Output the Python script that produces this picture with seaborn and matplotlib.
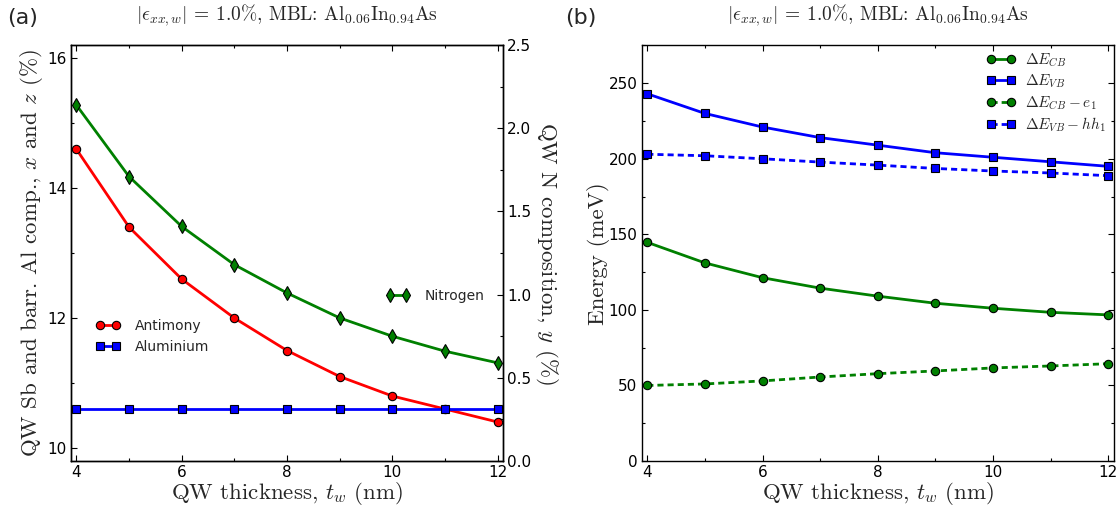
import matplotlib
matplotlib.use("Agg")
import matplotlib.pyplot as plt
import seaborn as sns
from matplotlib.ticker import MultipleLocator

# ---------------- data ----------------
thickness = [4, 5, 6, 7, 8, 9, 10, 11, 12]
antimony = [14.6, 13.4, 12.6, 12.0, 11.5, 11.1, 10.8, 10.6, 10.4]
aluminium = [10.6, 10.6, 10.6, 10.6, 10.6, 10.6, 10.6, 10.6, 10.6]
nitrogen = [2.14, 1.71, 1.41, 1.18, 1.01, 0.86, 0.75, 0.66, 0.59]

de_cb = [144.7, 131.1, 121.3, 114.4, 109.1, 104.4, 101.1, 98.4, 96.7]
de_vb = [243.0, 230.0, 221.0, 214.0, 209.0, 204.0, 201.0, 198.0, 195.0]
de_cb_e1 = [50.0, 51.0, 53.0, 55.6, 57.8, 59.6, 61.6, 62.9, 64.4]
de_vb_hh1 = [203.0, 202.0, 200.0, 197.8, 195.8, 193.6, 191.9, 190.6, 188.8]

title_txt = r"$|\epsilon_{xx,w}|$ = 1.0%, MBL: Al$_{0.06}$In$_{0.94}$As"
xlabel_txt = r"QW thickness, $t_w$ (nm)"
ylabel_a = r"QW Sb and barr. Al comp., $x$ and $z$ (%)"
ylabel_a2 = r"QW N composition, $y$ (%)"
ylabel_b = "Energy (meV)"

# ---------------- style ----------------
sns.set_style("ticks")
plt.rcParams.update({
    "xtick.direction": "in", "ytick.direction": "in",
    "xtick.top": True, "ytick.right": True,
    "xtick.major.size": 4, "ytick.major.size": 4,
    "xtick.minor.size": 2, "ytick.minor.size": 2,
    "xtick.major.width": 0.8, "ytick.major.width": 0.8,
    "xtick.minor.width": 0.8, "ytick.minor.width": 0.8,
    "axes.edgecolor": "black", "axes.linewidth": 1.0,
    "xtick.color": "black", "ytick.color": "black",
    "xtick.labelsize": 11, "ytick.labelsize": 11,
    "mathtext.fontset": "cm",
})
plt.rcParams["font.family"] = ["DejaVu Sans"]
SERIF = ["cmr10", "DejaVu Serif"]
LABEL_FS = 16.5
TITLE_FS = 14

fig = plt.figure(figsize=(11.19, 5.11), dpi=100)
ax1 = fig.add_axes([0.0635, 0.0978, 0.386, 0.814])
ax2 = fig.add_axes([0.5733, 0.0978, 0.4222, 0.8133])

LW = 2.0
MEW = 0.8
DOT = (0, (2.2, 1.45))

# ---------------- panel (a) ----------------
sns.lineplot(x=thickness, y=antimony, ax=ax1, color="red", marker="o", markersize=6,
             markeredgecolor="k", markeredgewidth=MEW, linewidth=LW, label="Antimony")
sns.lineplot(x=thickness, y=aluminium, ax=ax1, color="blue", marker="s", markersize=6,
             markeredgecolor="k", markeredgewidth=MEW, linewidth=LW, label="Aluminium")
ax1r = ax1.twinx()
sns.lineplot(x=thickness, y=nitrogen, ax=ax1r, color="green", marker="d", markersize=7,
             markeredgecolor="k", markeredgewidth=MEW, linewidth=LW, label="Nitrogen")

ax1.set_xlim(3.9, 12.1)
ax1.set_ylim(9.8, 16.2)
ax1r.set_ylim(0.0, 2.5)
ax1.xaxis.set_major_locator(MultipleLocator(2))
ax1.xaxis.set_minor_locator(MultipleLocator(1))
ax1.yaxis.set_major_locator(MultipleLocator(2))
ax1.yaxis.set_minor_locator(MultipleLocator(1))
ax1r.yaxis.set_major_locator(MultipleLocator(0.5))
ax1r.yaxis.set_minor_locator(MultipleLocator(0.25))
ax1.tick_params(axis="y", which="both", right=False, pad=3)
ax1r.tick_params(axis="y", which="both", direction="in", right=True, left=False, pad=3)
ax1.tick_params(axis="x", which="both", top=True, pad=3)

ax1.set_xlabel(xlabel_txt, fontfamily=SERIF, fontsize=LABEL_FS, labelpad=0)
ax1.set_ylabel(ylabel_a, fontfamily=SERIF, fontsize=LABEL_FS, labelpad=2)
ax1r.set_ylabel(ylabel_a2, fontfamily=SERIF, fontsize=LABEL_FS, rotation=270, labelpad=21)
ax1.set_title(title_txt, fontfamily=SERIF, fontsize=TITLE_FS, pad=18)

h1 = ax1.get_lines()
ax1.legend(handles=h1[:2], loc="center left", bbox_to_anchor=(0.028, 0.30),
           frameon=False, numpoints=2, fontsize=10, handlelength=1.8,
           handletextpad=1.0, labelspacing=0.5)
ax1r.legend(handles=ax1r.get_lines()[:1], loc="center left", bbox_to_anchor=(0.699, 0.397),
            frameon=False, numpoints=2, fontsize=10, handlelength=1.8,
            handletextpad=1.0)

# ---------------- panel (b) ----------------
sns.lineplot(x=thickness, y=de_cb, ax=ax2, color="green", marker="o", markersize=6,
             markeredgecolor="k", markeredgewidth=MEW, linewidth=LW, label=r"$\Delta E_{CB}$")
sns.lineplot(x=thickness, y=de_vb, ax=ax2, color="blue", marker="s", markersize=6,
             markeredgecolor="k", markeredgewidth=MEW, linewidth=LW, label=r"$\Delta E_{VB}$")
sns.lineplot(x=thickness, y=de_cb_e1, ax=ax2, color="green", marker="o", markersize=6,
             markeredgecolor="k", markeredgewidth=MEW, linewidth=LW, linestyle=DOT,
             label=r"$\Delta E_{CB} - e_1$")
sns.lineplot(x=thickness, y=de_vb_hh1, ax=ax2, color="blue", marker="s", markersize=6,
             markeredgecolor="k", markeredgewidth=MEW, linewidth=LW, linestyle=DOT,
             label=r"$\Delta E_{VB} - hh_1$")

ax2.set_xlim(3.9, 12.1)
ax2.set_ylim(0, 275)
ax2.xaxis.set_major_locator(MultipleLocator(2))
ax2.xaxis.set_minor_locator(MultipleLocator(1))
ax2.yaxis.set_major_locator(MultipleLocator(50))
ax2.yaxis.set_minor_locator(MultipleLocator(25))
ax2.tick_params(which="both", top=True, right=True, pad=3)

ax2.set_xlabel(xlabel_txt, fontfamily=SERIF, fontsize=LABEL_FS, labelpad=0)
ax2.set_ylabel(ylabel_b, fontfamily=SERIF, fontsize=LABEL_FS, labelpad=-1)
ax2.set_title(title_txt, fontfamily=SERIF, fontsize=TITLE_FS, pad=18)

ax2.legend(handles=ax2.get_lines()[:4], loc="center left", bbox_to_anchor=(0.70, 0.886),
           frameon=False, numpoints=2, fontsize=11, handlelength=1.95,
           handletextpad=0.6, labelspacing=0.25)

fig.text(0.006, 0.965, "(a)", fontsize=16, va="center", ha="left")
fig.text(0.505, 0.965, "(b)", fontsize=16, va="center", ha="left")

fig.savefig("out.png", dpi=100)
